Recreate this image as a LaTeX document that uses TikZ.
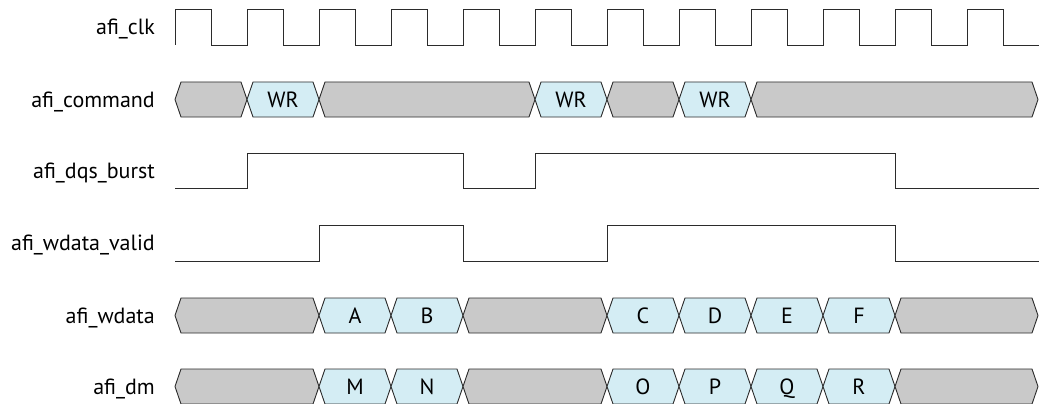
\documentclass[tikz,border=0pt]{standalone}
\usepackage{fontspec}
\setmainfont{PT Sans}
\definecolor{busgray}{HTML}{C9C9C9}
\definecolor{buscyan}{HTML}{D4EDF4}
\definecolor{wire}{HTML}{2B2B2B}
\tikzset{
    sig/.style={draw=wire, line width=0.9pt, line join=miter},
    idle/.style={sig, fill=busgray},
    word/.style={sig, fill=buscyan},
    signame/.style={anchor=base east, font=\fontsize{22}{26}\selectfont, inner sep=0pt},
    wordtext/.style={anchor=base, font=\fontsize{22}{26}\selectfont, inner sep=0pt}
}
\begin{document}
\begin{tikzpicture}[x=1pt, y=-1pt]
    \useasboundingbox (0,0) rectangle (1042,404);

    % signal names
    \node[signame] (nclk) at (155,34.5) {afi\_clk};
    \node[signame] (ncmd) at (155,107.5) {afi\_command};
    \node[signame] (ndqs) at (155,178) {afi\_dqs\_burst};
    \node[signame] (nvalid) at (155,250.5) {afi\_wdata\_valid};
    \node[signame] (nwdata) at (155,323) {afi\_wdata};
    \node[signame] (ndm) at (155,394) {afi\_dm};

    % clock
    \draw[sig] (175,45) \foreach \k in {0,...,11} {
        -- ({175+72*\k},9) -- ({211+72*\k},9)
        -- ({211+72*\k},45) -- ({247+72*\k},45) };

    % single bit signals
    \draw[sig] (175,188) -- (247,188) -- (247,153) -- (463,153) -- (463,188)
        -- (535,188) -- (535,153) -- (895,153) -- (895,188) -- (1039,188);
    \draw[sig] (175,261) -- (319,261) -- (319,225) -- (463,225) -- (463,261)
        -- (607,261) -- (607,225) -- (895,225) -- (895,261) -- (1039,261);

    % afi_command
    \foreach \a/\b/\s/\t [count=\i] in {175/247/idle/, 247/319/word/WR,
            319/535/idle/, 535/607/word/WR, 607/679/idle/,
            679/751/word/WR, 751/1038/idle/} {
        \draw[\s] (\a,99.5) -- (\a+6,82) -- (\b-6,82) -- (\b,99.5)
            -- (\b-6,117) -- (\a+6,117) -- cycle;
        \node[wordtext] (cmd\i) at ({(\a+\b)/2},107) {\t};
    }

    % afi_wdata
    \foreach \a/\b/\s/\t [count=\i] in {175/319/idle/, 319/391/word/A,
            391/463/word/B, 463/607/idle/, 607/679/word/C, 679/751/word/D,
            751/823/word/E, 823/895/word/F, 895/1038/idle/} {
        \draw[\s] (\a,315.5) -- (\a+6,298) -- (\b-6,298) -- (\b,315.5)
            -- (\b-6,333) -- (\a+6,333) -- cycle;
        \node[wordtext] (wd\i) at ({(\a+\b)/2},323) {\t};
    }

    % afi_dm
    \foreach \a/\b/\s/\t [count=\i] in {175/319/idle/, 319/391/word/M,
            391/463/word/N, 463/607/idle/, 607/679/word/O, 679/751/word/P,
            751/823/word/Q, 823/895/word/R, 895/1038/idle/} {
        \draw[\s] (\a,386.5) -- (\a+6,369) -- (\b-6,369) -- (\b,386.5)
            -- (\b-6,404) -- (\a+6,404) -- cycle;
        \node[wordtext] (dm\i) at ({(\a+\b)/2},394) {\t};
    }
\end{tikzpicture}
\end{document}
